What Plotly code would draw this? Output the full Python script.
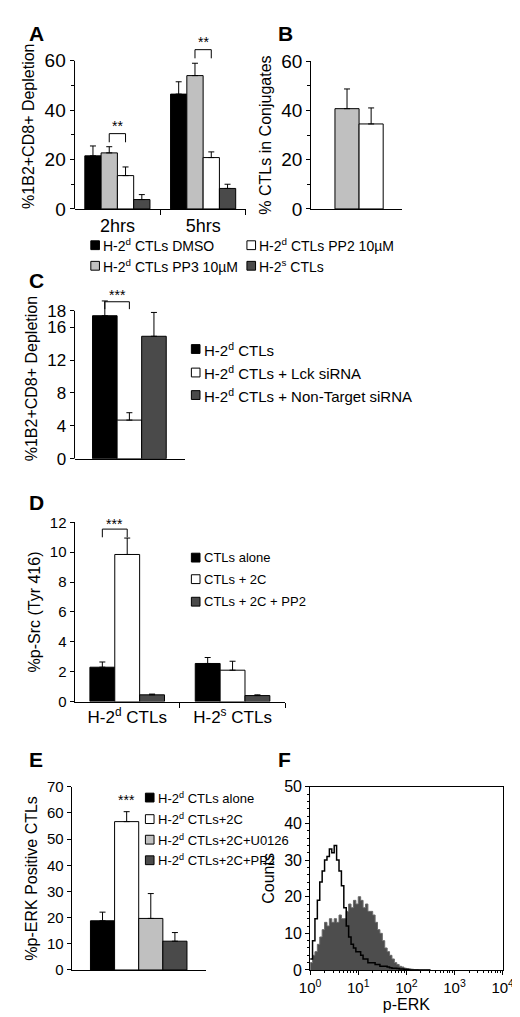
import plotly.graph_objects as go

FONT = "Liberation Sans, Arial, sans-serif"
BLACK, WHITE, LGRAY, DGRAY = "#000000", "#ffffff", "#c0c0c0", "#4a4a4a"

# Panel A
a_groups = ["2hrs", "5hrs"]
a_series = ["H-2<sup>d</sup> CTLs DMSO", "H-2<sup>d</sup> CTLs PP3 10µM",
            "H-2<sup>d</sup> CTLs PP2 10µM", "H-2<sup>s</sup> CTLs"]
a_colors = [BLACK, LGRAY, WHITE, DGRAY]
a_vals = [[21.5, 46.5], [22.7, 54.0], [13.5, 20.8], [3.8, 8.3]]
a_errs = [[4.0, 5.0], [2.5, 5.0], [3.5, 2.3], [2.0, 1.7]]
# Panel B
b_vals = [40.7, 34.5]
b_errs = [8.0, 6.5]
b_colors = [LGRAY, WHITE]
# Panel C
c_series = ["H-2<sup>d</sup> CTLs", "H-2<sup>d</sup> CTLs + Lck siRNA",
            "H-2<sup>d</sup> CTLs + Non-Target siRNA"]
c_vals = [17.4, 4.7, 14.9]
c_errs = [1.8, 0.9, 2.9]
c_colors = [BLACK, WHITE, DGRAY]
# Panel D
d_groups = ["H-2<sup>d</sup> CTLs", "H-2<sup>s</sup> CTLs"]
d_series = ["CTLs alone", "CTLs + 2C", "CTLs + 2C + PP2"]
d_vals = [[2.3, 2.55], [9.85, 2.1], [0.45, 0.4]]
d_errs = [[0.35, 0.4], [1.1, 0.6], [0.05, 0.05]]
d_colors = [BLACK, WHITE, DGRAY]
# Panel E
e_series = ["H-2<sup>d</sup> CTLs alone", "H-2<sup>d</sup> CTLs+2C",
            "H-2<sup>d</sup> CTLs+2C+U0126", "H-2<sup>d</sup> CTLs+2C+PP2"]
e_vals = [18.8, 56.7, 19.7, 11.0]
e_errs = [3.3, 3.8, 9.5, 3.3]
e_colors = [BLACK, WHITE, LGRAY, DGRAY]
# Panel F (log10 p-ERK bins, counts)
f_logx = [i * 0.05 for i in range(0, 51)]
f_unstim = [3, 8, 14, 19, 24, 27, 30, 31, 33, 32, 34, 30, 27, 23, 17, 12, 9, 7, 6, 5,
            5, 4, 3, 3, 2, 2, 2, 1.5, 1.5, 1, 1, 1, 0.8, 0.6, 0.5, 0.5, 0.4, 0.3, 0.3, 0.2,
            0.1, 0, 0, 0, 0, 0, 0, 0, 0, 0, 0]
f_stim = [2, 4, 5, 7, 9, 11, 13, 12, 14, 13, 14, 13, 15, 14, 14, 16, 18, 17, 19, 18,
          20, 19, 17, 18, 16, 16, 15, 13, 11, 10, 8, 6, 5, 4, 3, 2, 1.5, 1, 0.8, 0.5,
          0.4, 0.3, 0.2, 0.1, 0.1, 0, 0, 0, 0, 0, 0]

fig = go.Figure()

def bar(x, y, e, color, xa, ya, w):
    fig.add_trace(go.Bar(x=[x], y=[y], width=w, marker=dict(color=color, line=dict(color="black", width=1)),
                         error_y=dict(type="data", array=[e], arrayminus=[0], symmetric=False,
                                      color="black", thickness=1, width=3),
                         xaxis=xa, yaxis=ya, showlegend=False))

wA = 0.19
for i in range(4):
    for g in range(2):
        bar(g + 0.5 + (i - 1.5) * wA, a_vals[i][g], a_errs[i][g], a_colors[i], "x", "y", wA)
for i in range(2):
    bar(0.395 + i * 0.265, b_vals[i], b_errs[i], b_colors[i], "x2", "y2", 0.265)
for i in range(3):
    bar(0.275 + i * 0.223, c_vals[i], c_errs[i], c_colors[i], "x3", "y3", 0.223)
wD = 0.236
for i in range(3):
    for g in range(2):
        bar(g + 0.5 + (i - 1) * wD, d_vals[i][g], d_errs[i][g], d_colors[i], "x4", "y4", wD)
for i in range(4):
    bar(0.23 + i * 0.18, e_vals[i], e_errs[i], e_colors[i], "x5", "y5", 0.18)

fx = [10 ** v for v in f_logx]
fig.add_trace(go.Scatter(x=fx, y=f_stim, mode="lines", line=dict(color="#6a6a6a", width=1, shape="hv"),
                         fill="tozeroy", fillcolor="#4d4d4d", xaxis="x6", yaxis="y6", showlegend=False))
fig.add_trace(go.Scatter(x=fx, y=f_unstim, mode="lines", line=dict(color="black", width=1.5, shape="hv"),
                         xaxis="x6", yaxis="y6", showlegend=False))

base = dict(showline=True, linecolor="black", linewidth=1, showgrid=False, zeroline=False, ticks="outside",
            ticklen=4, tickcolor="black")

def fnt(s):
    return dict(family=FONT, size=s, color="black")

def yl(dom, rng, title, tvals, font, minor=None, line=True):
    d = dict(base, domain=dom, range=rng, tickvals=tvals, tickfont=font, showline=line,
             title=dict(text=title, font=fnt(16), standoff=5))
    if minor:
        d["minor"] = dict(tickvals=minor, ticks="outside", ticklen=3, tickcolor="black")
    return d

fig.update_layout(
    width=520, height=1017, margin=dict(l=0, r=0, t=0, b=0), paper_bgcolor="white", plot_bgcolor="white",
    font=dict(family=FONT, color="black"),
    xaxis=dict(base, domain=[0.1115, 0.4558], range=[0, 2], tickvals=[0.5, 1.5], ticktext=a_groups,
               ticklen=0, tickfont=fnt(18), minor=dict(tickvals=[1, 2], ticks="outside", ticklen=5, tickcolor="black"), anchor="y"),
    yaxis=yl([0.8083, 0.9744], [0, 67], "%1B2+CD8+ Depletion", [0, 20, 40, 60], fnt(19),
             minor=[10, 30, 50], line=False),
    xaxis2=dict(base, domain=[0.5865, 0.7692], range=[0, 1], showticklabels=False, ticks="", anchor="y2"),
    yaxis2=yl([0.8083, 0.9567], [0, 60], "% CTLs in Conjugates", [0, 20, 40, 60], fnt(19),
              minor=[10, 30, 50]),
    xaxis3=dict(base, domain=[0.1115, 0.3327], range=[0, 1], showticklabels=False, ticks="", anchor="y3"),
    yaxis3=yl([0.5575, 0.7184], [0, 19.5], "%1B2+CD8+ Depletion", [0, 4, 8, 12, 16, 18], fnt(17),
              line=False),
    xaxis4=dict(base, domain=[0.1115, 0.5346], range=[0, 2], tickvals=[0.5, 1.5], ticktext=d_groups,
                ticklen=0, tickfont=fnt(17),
                minor=dict(tickvals=[1, 2], ticks="outside", ticklen=5, tickcolor="black"), anchor="y4"),
    yaxis4=yl([0.3137, 0.4936], [0, 12], "%p-Src (Tyr 416)", [0, 2, 4, 6, 8, 10, 12], fnt(15)),
    xaxis5=dict(base, domain=[0.1058, 0.375], range=[0, 1], showticklabels=False, ticks="", anchor="y5"),
    yaxis5=yl([0.0442, 0.2281], [0, 70], "%p-ERK Positive CTLs", list(range(0, 71, 10)), fnt(15)),
    xaxis6=dict(base, domain=[0.5846, 0.9712], type="log", range=[0, 4], mirror=True,
                tickvals=[1, 10, 100, 1000, 10000],
                ticktext=["10<sup>0</sup>", "10<sup>1</sup>", "10<sup>2</sup>", "10<sup>3</sup>", "10<sup>4</sup>"],
                tickfont=fnt(15), minor=dict(ticks="outside", ticklen=2, tickcolor="black", dtick="D1"),
                title=dict(text="p-ERK", font=fnt(16), standoff=2), anchor="y6"),
    yaxis6=yl([0.0442, 0.2281], [0, 50], "Counts", [0, 10, 20, 30, 40, 50], fnt(16)),
)
fig.layout.yaxis6.mirror = True
fig.layout.yaxis6.minor = dict(dtick=2, ticks="outside", ticklen=2, tickcolor="black")
fig.layout.yaxis6.anchor = "x6"
for k in ["yaxis", "yaxis2", "yaxis3", "yaxis4", "yaxis5"]:
    fig.layout[k].anchor = "x" + k[5:]

shapes = []
shapes.append(dict(type="line", xref="x domain", yref="y", x0=0, x1=0, y0=0, y1=60, line=dict(color="black", width=1)))
shapes.append(dict(type="line", xref="x3 domain", yref="y3", x0=0, x1=0, y0=0, y1=18, line=dict(color="black", width=1)))

def bracket(xr, yr, x0, x1, ytop, drop):
    shapes.append(dict(type="path", xref=xr, yref=yr,
                       path=f"M {x0},{ytop-drop} L {x0},{ytop} L {x1},{ytop} L {x1},{ytop-drop}",
                       line=dict(color="black", width=1)))

bracket("x", "y", 0.5 - 0.5 * wA, 0.5 + 0.5 * wA, 30.5, 3.5)
bracket("x", "y", 1.5 - 0.5 * wA, 1.5 + 0.5 * wA, 64.5, 3.5)
bracket("x3", "y3", 0.275, 0.498, 19.1, 0.9)
bracket("x4", "y4", 0.5 - wD, 0.5, 11.55, 0.55)

ann = []
def stars(xr, yr, x, y, n):
    ann.append(dict(xref=xr, yref=yr, x=x, y=y, text="*" * n, showarrow=False, yanchor="bottom",
                    font=fnt(14)))
stars("x", "y", 0.5, 29.5, 2)
stars("x", "y", 1.5, 63.5, 2)
stars("x3", "y3", 0.386, 18.7, 3)
stars("x4", "y4", 0.5 - wD / 2, 11.2, 3)
stars("x5", "y5", 0.41, 61, 3)

def letter(t, x, y):
    ann.append(dict(xref="paper", yref="paper", x=x / 520, y=1 - y / 1017, text=f"<b>{t}</b>", showarrow=False,
                    xanchor="left", yanchor="middle", font=fnt(21)))
letter("A", 8, 16); letter("B", 268, 16); letter("C", 8, 268); letter("D", 8, 495)
letter("E", 8, 757); letter("F", 268, 757)

def legend(items, colors, x, ys, size, sq=9):
    for t, c, y in zip(items, colors, ys):
        shapes.append(dict(type="rect", xref="paper", yref="paper", x0=x / 520, x1=(x + sq) / 520,
                           y0=1 - (y + sq / 2) / 1017, y1=1 - (y - sq / 2) / 1017,
                           fillcolor=c, line=dict(color="black", width=1)))
        ann.append(dict(xref="paper", yref="paper", x=(x + sq + 2) / 520, y=1 - y / 1017, text=t, showarrow=False,
                        xanchor="left", yanchor="middle", font=fnt(size)))

legend([a_series[0], a_series[1]], [a_colors[0], a_colors[1]], 75, [232, 253], 14)
legend([a_series[2], a_series[3]], [a_colors[2], a_colors[3]], 238, [232, 253], 14)
legend(c_series, c_colors, 180, [338, 362, 385], 15)
legend(d_series, d_colors, 180, [551, 573, 596], 13)
legend(e_series, e_colors, 132, [796, 818, 839, 860], 13)

fig.update_layout(shapes=shapes, annotations=ann)
fig.write_html("out.html")
